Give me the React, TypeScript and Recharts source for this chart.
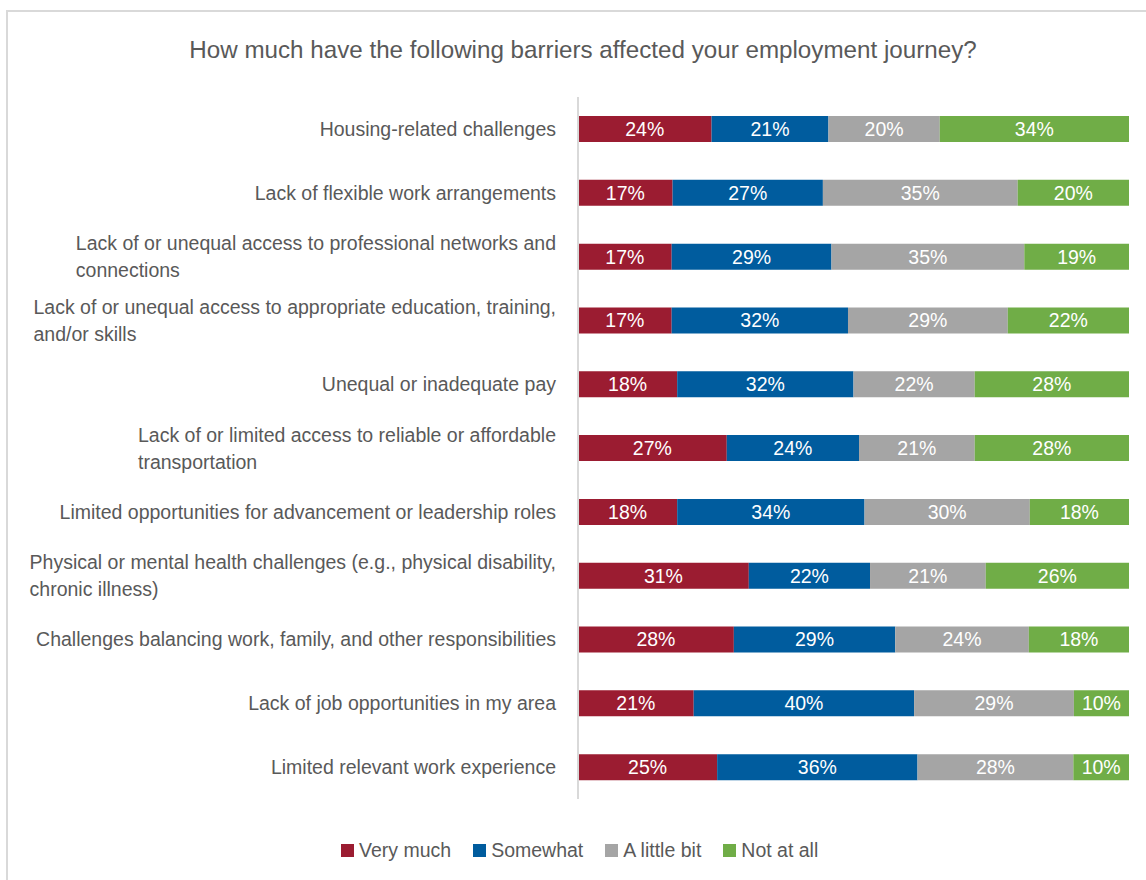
import React from 'react'
import { BarChart, Bar, XAxis, YAxis, LabelList } from 'recharts'

const categories = [
  'Housing-related challenges',
  'Lack of flexible work arrangements',
  'Lack of or unequal access to professional networks and\nconnections',
  'Lack of or unequal access to appropriate education, training,\nand/or skills',
  'Unequal or inadequate pay',
  'Lack of or limited access to reliable or affordable\ntransportation',
  'Limited opportunities for advancement or leadership roles',
  'Physical or mental health challenges (e.g., physical disability,\nchronic illness)',
  'Challenges balancing work, family, and other responsibilities',
  'Lack of job opportunities in my area',
  'Limited relevant work experience',
]

const veryMuch = [24, 17, 17, 17, 18, 27, 18, 31, 28, 21, 25]
const somewhat = [21, 27, 29, 32, 32, 24, 34, 22, 29, 40, 36]
const littleBit = [20, 35, 35, 29, 22, 21, 30, 21, 24, 29, 28]
const notAtAll = [34, 20, 19, 22, 28, 28, 18, 26, 18, 10, 10]

const seriesNames = ['Very much', 'Somewhat', 'A little bit', 'Not at all']
const seriesKeys = ['veryMuch', 'somewhat', 'littleBit', 'notAtAll']
const colors = ['#9b1c31', '#005c9e', '#a5a5a5', '#70ad47']

const data = categories.map((name, i) => ({
  name,
  veryMuch: veryMuch[i],
  somewhat: somewhat[i],
  littleBit: littleBit[i],
  notAtAll: notAtAll[i],
}))

const FONT = '"Liberation Sans", Arial, sans-serif'
const LABEL_SIZE = 19.5
const TEXT_COLOR = '#595959'

let ctx: CanvasRenderingContext2D | null = null
function textWidth(s: string) {
  if (!ctx) ctx = document.createElement('canvas').getContext('2d')
  if (!ctx) return s.length * 9
  ctx.font = `${LABEL_SIZE}px ${FONT}`
  return ctx.measureText(s).width
}

// multi-line labels: block right-aligned, lines left-aligned (like Excel)
function CategoryTick(props: any) {
  const { x, y, payload } = props
  const lines: string[] = String(payload.value).split('\n')
  const maxW = Math.max(...lines.map(textWidth))
  const lineH = 27
  const startY = y - ((lines.length - 1) * lineH) / 2
  return (
    <g>
      {lines.map((ln, i) => (
        <text
          key={i}
          x={lines.length > 1 ? x - maxW : x}
          y={startY + i * lineH}
          textAnchor={lines.length > 1 ? 'start' : 'end'}
          dominantBaseline="central"
          fill={TEXT_COLOR}
          fontSize={LABEL_SIZE}
          fontFamily={FONT}
        >
          {ln}
        </text>
      ))}
    </g>
  )
}

export default function App() {
  return (
    <div style={{ position: 'absolute', left: 0, top: 0, width: 1146, height: 880, overflow: 'hidden', background: '#fff' }}>
      <div
        style={{
          position: 'absolute',
          left: 6,
          top: 10,
          width: 1160,
          height: 900,
          border: '2px solid #d9d9d9',
          boxSizing: 'border-box',
        }}
      />
      <div
        style={{
          position: 'absolute',
          left: 0,
          width: 1166,
          top: 34,
          textAlign: 'center',
          fontFamily: FONT,
          fontSize: 24.2,
          color: TEXT_COLOR,
          lineHeight: '32px',
        }}
      >
        How much have the following barriers affected your employment journey?
      </div>
      <div style={{ position: 'absolute', left: 0, top: 0 }}>
        <BarChart
          width={1146}
          height={880}
          data={data}
          layout="vertical"
          stackOffset="expand"
          barSize={26}
          margin={{ top: 97, right: 17, bottom: 81, left: 0 }}
        >
          <XAxis type="number" hide domain={[0, 1]} />
          <YAxis
            type="category"
            dataKey="name"
            width={578}
            tickLine={false}
            tickSize={0}
            tickMargin={22}
            axisLine={{ stroke: '#d9d9d9', strokeWidth: 2 }}
            tick={<CategoryTick />}
            interval={0}
          />
          {seriesKeys.map((k, i) => (
            <Bar key={k} dataKey={k} name={seriesNames[i]} stackId="a" fill={colors[i]} isAnimationActive={false}>
              <LabelList
                dataKey={k}
                position="center"
                fill="#ffffff"
                fontSize={LABEL_SIZE}
                fontFamily={FONT}
                formatter={(v: any) => `${v}%`}
              />
            </Bar>
          ))}
        </BarChart>
      </div>
      <div
        style={{
          position: 'absolute',
          left: 341,
          top: 839,
          display: 'flex',
          alignItems: 'center',
          fontFamily: FONT,
          fontSize: LABEL_SIZE,
          color: TEXT_COLOR,
          whiteSpace: 'nowrap',
        }}
      >
        {seriesNames.map((n, i) => (
          <div key={n} style={{ display: 'flex', alignItems: 'center', marginRight: 22 }}>
            <span style={{ display: 'inline-block', width: 13, height: 13, background: colors[i], marginRight: 5 }} />
            <span>{n}</span>
          </div>
        ))}
      </div>
    </div>
  )
}
